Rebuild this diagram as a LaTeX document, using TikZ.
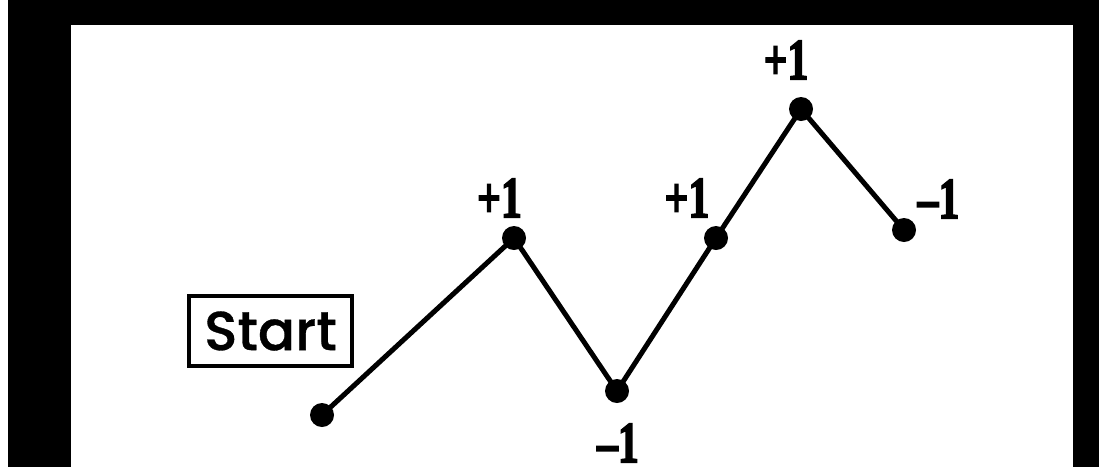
\documentclass[tikz,border=0pt]{standalone}
\usepackage{fontspec}
\newfontfamily\labfont{Liberation Serif Bold}[FakeBold=3]
\newfontfamily\startfont{Poppins Medium}[FakeBold=0.6]
\newcommand{\lbl}[1]{\scalebox{0.72}[1]{\labfont\fontsize{58}{58}\selectfont #1}}
\tikzset{
  dot/.style={circle,fill=black,inner sep=0pt,minimum size=24pt},
  walk/.style={line width=5pt,black},
  lab/.style={inner sep=0pt},
  startbox/.style={draw=black,line width=4pt,minimum width=163pt,minimum height=70pt,inner sep=0pt,
    font=\startfont\fontsize{55}{55}\selectfont}
}
\begin{document}
\begin{tikzpicture}[x=1pt,y=-1pt]
\useasboundingbox (0,0) rectangle (1099,467);
\fill[black] (8,0) rectangle (1099,467);
\fill[white] (71,25) rectangle (1073,467);
\node[startbox] (start) at (270.5,331) {Start};
\node[dot] (p0) at (322,415) {};
\node[dot] (p1) at (514,238) {};
\node[dot] (p2) at (617,391) {};
\node[dot] (p3) at (716,238) {};
\node[dot] (p4) at (801,109) {};
\node[dot] (p5) at (904,230) {};
\draw[walk] (p0.center) -- (p1.center) -- (p2.center) -- (p3.center) -- (p4.center) -- (p5.center);
\node[lab] (l1) at (499.5,198) {\lbl{+1}};
\node[lab] (l2) at (618,443) {\lbl{–1}};
\node[lab] (l3) at (687,198) {\lbl{+1}};
\node[lab] (l4) at (786,60) {\lbl{+1}};
\node[lab] (l5) at (938.5,199) {\lbl{–1}};
\end{tikzpicture}
\end{document}
